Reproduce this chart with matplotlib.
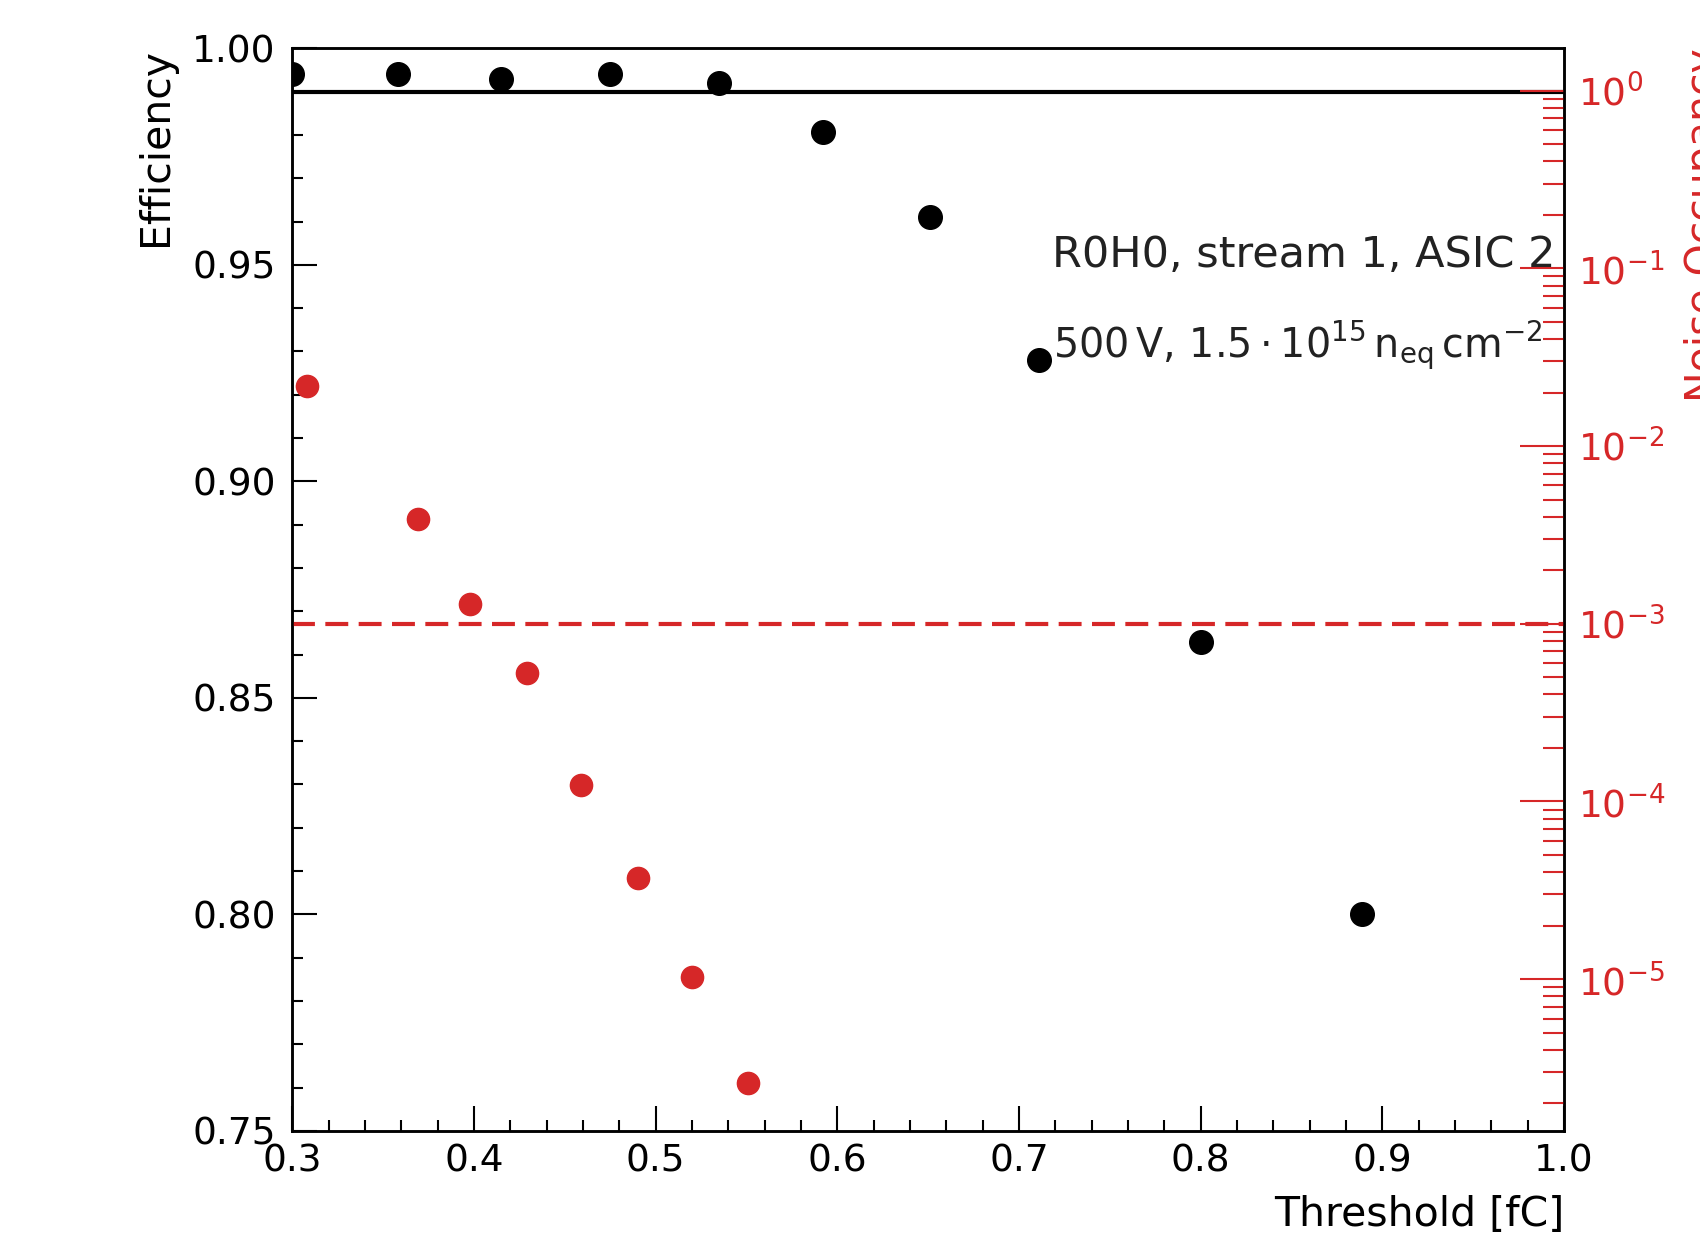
import matplotlib
matplotlib.use('Agg')
from matplotlib import pyplot as plt
from matplotlib import ticker
import numpy as np

# Efficiency vs threshold (black, left axis)
thr_eff = [0.30, 0.358, 0.415, 0.475, 0.535, 0.592, 0.651, 0.711, 0.800, 0.889]
efficiency = [0.994, 0.994, 0.993, 0.994, 0.992, 0.9807, 0.961, 0.928, 0.863, 0.800]

# Noise occupancy vs threshold (red, right axis)
thr_noise = [0.308, 0.369, 0.398, 0.429, 0.459, 0.490, 0.520, 0.551]
noise_occ = [2.19e-2, 3.9e-3, 1.29e-3, 5.25e-4, 1.23e-4, 3.69e-5, 1.03e-5, 2.6e-6]

eff_target = 0.99
noise_target = 1e-3

RED = '#d62728'
FS = 27      # tick labels
LFS = 29.5   # axis labels

plt.rcParams['font.family'] = ['DejaVu Sans']
plt.rcParams['mathtext.fontset'] = 'dejavusans'

fig = plt.figure(figsize=(17, 12.4), dpi=100)
ax = fig.add_axes([0.172, 0.088, 0.748, 0.873])

ax.plot(thr_eff, efficiency, 'o', color='black', ms=17, zorder=3)
ax.axhline(eff_target, color='black', lw=3, zorder=2)
ax.set_xlim(0.3, 1.0)
ax.set_ylim(0.75, 1.0)
ax.xaxis.set_major_locator(ticker.MultipleLocator(0.1))
ax.xaxis.set_minor_locator(ticker.MultipleLocator(0.02))
ax.yaxis.set_major_locator(ticker.MultipleLocator(0.05))
ax.yaxis.set_minor_locator(ticker.MultipleLocator(0.01))
ax.xaxis.set_major_formatter(ticker.FormatStrFormatter('%.1f'))
ax.yaxis.set_major_formatter(ticker.FormatStrFormatter('%.2f'))
ax.tick_params(which='both', direction='in', top=False, right=False, labelsize=FS, width=1.5)
ax.tick_params(which='major', length=18)
ax.tick_params(which='minor', length=8)
ax.tick_params(axis='y', pad=12)
ax.tick_params(axis='x', pad=9)
for s in ax.spines.values():
    s.set_linewidth(1.8)
ax.set_xlabel('Threshold [fC]', fontsize=LFS, loc='right', labelpad=11)
ax.set_ylabel('Efficiency', fontsize=LFS, loc='top', labelpad=12)

ax.text(0.993, 0.809, 'R0H0, stream 1, ASIC 2', transform=ax.transAxes,
        ha='right', va='center', fontsize=31, color='#222222')
ax.text(0.983, 0.726, r'$\mathregular{500\,V,\,1.5\cdot10^{15}\,n_{eq}\,cm^{-2}}$',
        transform=ax.transAxes, ha='right', va='center', fontsize=28.5, color='#222222')

ax2 = ax.twinx()
ax2.set_position(ax.get_position())
ax2.plot(thr_noise, noise_occ, 'o', color=RED, ms=16, zorder=3)
ax2.axhline(noise_target, color=RED, lw=3, dashes=(5.5, 2.5))
ax2.set_yscale('log')
ax2.set_ylim(10 ** -5.854, 10 ** 0.238)
ax2.yaxis.set_major_locator(ticker.LogLocator(base=10, numticks=20))
ax2.yaxis.set_minor_locator(ticker.LogLocator(base=10, subs=np.arange(2, 10), numticks=20))
ax2.yaxis.set_minor_formatter(ticker.NullFormatter())
ax2.tick_params(axis='y', which='both', direction='in', colors=RED, labelsize=FS, pad=10, width=1.5)
ax2.tick_params(axis='y', which='major', length=32)
ax2.tick_params(axis='y', which='minor', length=15)
ax2.set_ylabel('Noise Occupancy', fontsize=LFS, color=RED, loc='top')
ax2.yaxis.set_label_coords(1.094, 1.0)
for s in ax2.spines.values():
    s.set_linewidth(1.8)

fig.savefig('out.png', dpi=100)
